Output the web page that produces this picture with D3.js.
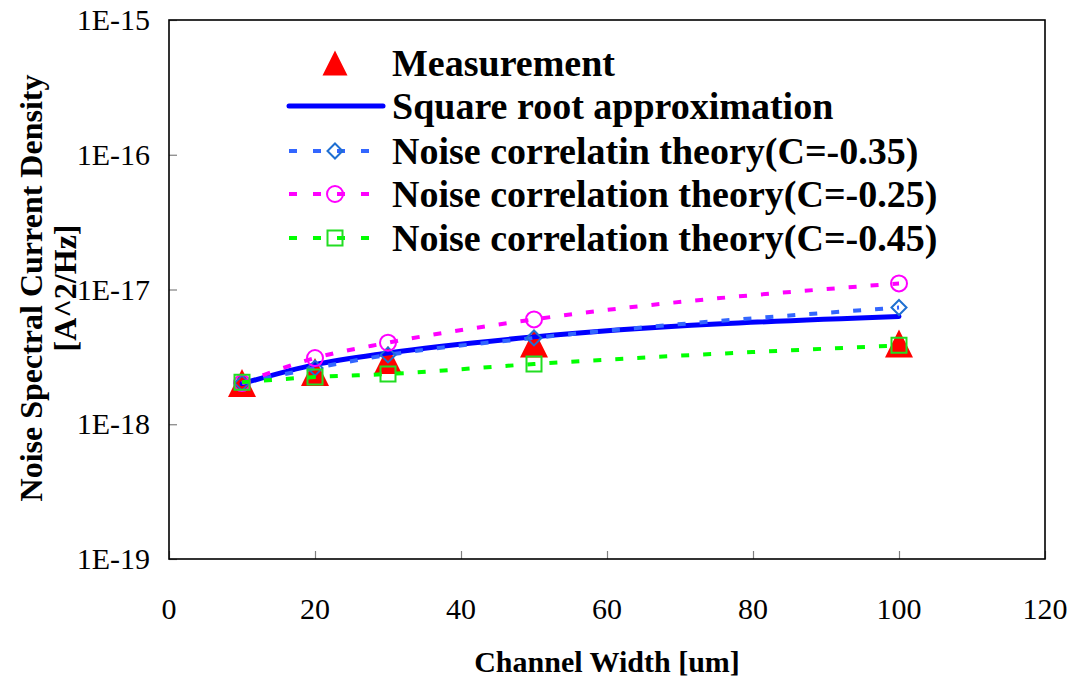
<!DOCTYPE html>
<html>
<head>
<meta charset="utf-8">
<script src="https://cdn.jsdelivr.net/npm/d3@7"></script>
<style>
  html, body { margin: 0; padding: 0; background: #fff; }
  text { font-family: "Liberation Serif", "Times New Roman", serif; }
</style>
</head>
<body>
<svg id="chart" width="1074" height="680"></svg>
<script>
// Channel widths [um]
const widths = [10, 20, 30, 50, 100];

// Noise spectral current density [A^2/Hz]
const measurement = [2.02e-18, 2.44e-18, 3.0e-18, 3.97e-18, 3.97e-18];
const sqrtApprox  = [2.0e-18, 2.77e-18, 3.38e-18, 4.45e-18, 6.3e-18];
const corrC035    = [2.02e-18, 2.61e-18, 3.27e-18, 4.37e-18, 7.35e-18];
const corrC025    = [2.02e-18, 3.1e-18, 4.03e-18, 6.0e-18, 1.11e-17];
const corrC045    = [2.05e-18, 2.24e-18, 2.36e-18, 2.8e-18, 3.85e-18];

const xTicks = [0, 20, 40, 60, 80, 100, 120];
const yTicks = [1e-19, 1e-18, 1e-17, 1e-16, 1e-15];
const yTickLabels = ["1E-19", "1E-18", "1E-17", "1E-16", "1E-15"];

const legendLabels = [
  "Measurement",
  "Square root approximation",
  "Noise correlatin theory(C=-0.35)",
  "Noise correlation theory(C=-0.25)",
  "Noise correlation theory(C=-0.45)"
];

const svg = d3.select("#chart");
const plot = { left: 169, right: 1045, top: 20, bottom: 559 };

const x = d3.scaleLinear().domain([0, 120]).range([plot.left, plot.right]);
const y = d3.scaleLog().domain([1e-19, 1e-15]).range([plot.bottom, plot.top]);

// Axes with inward ticks
const xAxis = d3.axisBottom(x).tickValues(xTicks).tickSizeInner(-8).tickSizeOuter(0).tickFormat("");
const yAxis = d3.axisLeft(y).tickValues(yTicks).tickSizeInner(-8).tickSizeOuter(0).tickFormat("");

const gx = svg.append("g").attr("transform", `translate(0,${plot.bottom})`).call(xAxis);
const gy = svg.append("g").attr("transform", `translate(${plot.left},0)`).call(yAxis);
[gx, gy].forEach(g => {
  g.select(".domain").remove();
  g.selectAll(".tick line").attr("stroke", "#808080").attr("stroke-width", 1.2);
});

// Plot frame
svg.append("rect")
  .attr("x", plot.left).attr("y", plot.top)
  .attr("width", plot.right - plot.left).attr("height", plot.bottom - plot.top)
  .attr("fill", "none").attr("stroke", "#000").attr("stroke-width", 1.6);

// Tick labels
svg.append("g").selectAll("text").data(xTicks).join("text")
  .attr("x", d => x(d)).attr("y", 619)
  .attr("text-anchor", "middle").attr("font-size", 30)
  .text(d => d);

svg.append("g").selectAll("text").data(yTicks).join("text")
  .attr("x", 150).attr("y", d => y(d) + 10)
  .attr("text-anchor", "end").attr("font-size", 30)
  .text((d, i) => yTickLabels[i]);

// Axis titles
svg.append("text")
  .attr("x", 607).attr("y", 672)
  .attr("text-anchor", "middle").attr("font-size", 30).attr("font-weight", "bold")
  .text("Channel Width [um]");

const yTitle = svg.append("g").attr("transform", "translate(0,288) rotate(-90)");
yTitle.append("text").attr("x", 0).attr("y", 42)
  .attr("text-anchor", "middle").attr("font-size", 32).attr("font-weight", "bold")
  .text("Noise Spectral Current Density");
yTitle.append("text").attr("x", 0).attr("y", 76)
  .attr("text-anchor", "middle").attr("font-size", 32).attr("font-weight", "bold")
  .text("[A^2/Hz]");

// Marker shapes
const triangle = s => `M0,${-s / 2}L${s / 2},${s / 2}L${-s / 2},${s / 2}Z`;
const diamond = s => `M0,${-s / 2}L${s / 2},0L0,${s / 2}L${-s / 2},0Z`;
const square = s => `M${-s / 2},${-s / 2}H${s / 2}V${s / 2}H${-s / 2}Z`;

const pts = vals => widths.map((w, i) => [w, vals[i]]);
const line = d3.line().x(d => x(d[0])).y(d => y(d[1])).curve(d3.curveMonotoneX);

const series = [
  { vals: measurement, line: null, marker: "tri", fill: "#ff0000", stroke: "none" },
  { vals: sqrtApprox, line: { color: "#0000ff", width: 5, dash: null }, marker: null },
  { vals: corrC035, line: { color: "#3366ff", width: 4, dash: "8,14" }, marker: "diamond", fill: "none", stroke: "#1f6fd1" },
  { vals: corrC025, line: { color: "#ff00ff", width: 4, dash: "8,14" }, marker: "circle", fill: "none", stroke: "#ff00ff" },
  { vals: corrC045, line: { color: "#00ff00", width: 4, dash: "8,14" }, marker: "square", fill: "none", stroke: "#22dd22" }
];

function drawMarker(g, type, s) {
  if (type === "tri") {
    g.append("path").attr("d", triangle(28)).attr("fill", s.fill);
  } else if (type === "diamond") {
    g.append("path").attr("d", diamond(15)).attr("fill", "none").attr("stroke", s.stroke).attr("stroke-width", 2);
  } else if (type === "circle") {
    g.append("circle").attr("r", 8).attr("fill", "none").attr("stroke", s.stroke).attr("stroke-width", 2);
  } else if (type === "square") {
    g.append("path").attr("d", square(15)).attr("fill", "none").attr("stroke", s.stroke).attr("stroke-width", 2);
  }
}

const dataLayer = svg.append("g");
series.forEach(s => {
  const g = dataLayer.append("g");
  if (s.line) {
    g.append("path").datum(pts(s.vals)).attr("d", line)
      .attr("fill", "none").attr("stroke", s.line.color)
      .attr("stroke-width", s.line.width)
      .attr("stroke-linecap", s.line.dash ? "butt" : "round")
      .attr("stroke-dasharray", s.line.dash);
  }
  if (s.marker) {
    pts(s.vals).forEach(p => {
      const m = g.append("g").attr("transform", `translate(${x(p[0])},${y(p[1])})`);
      drawMarker(m, s.marker, s);
    });
  }
});

// Legend
const legend = svg.append("g");
const rowY = [63, 106, 151, 194, 238];
series.forEach((s, i) => {
  const g = legend.append("g").attr("transform", `translate(0,${rowY[i]})`);
  if (s.line) {
    if (s.line.dash) {
      g.append("line").attr("x1", 289).attr("x2", 369).attr("y1", 0).attr("y2", 0)
        .attr("stroke", s.line.color).attr("stroke-width", 4)
        .attr("stroke-dasharray", "8,16");
    } else {
      g.append("line").attr("x1", 289).attr("x2", 383).attr("y1", 0).attr("y2", 0)
        .attr("stroke", s.line.color).attr("stroke-width", 5).attr("stroke-linecap", "round");
    }
  }
  if (s.marker) {
    const m = g.append("g").attr("transform", "translate(335,0)");
    if (s.marker === "tri") {
      m.append("path").attr("d", triangle(25)).attr("fill", s.fill);
    } else {
      drawMarker(m, s.marker, s);
    }
  }
  g.append("text").attr("x", 392).attr("y", 13)
    .attr("font-size", 38).attr("font-weight", "bold")
    .text(legendLabels[i]);
});
</script>
</body>
</html>
